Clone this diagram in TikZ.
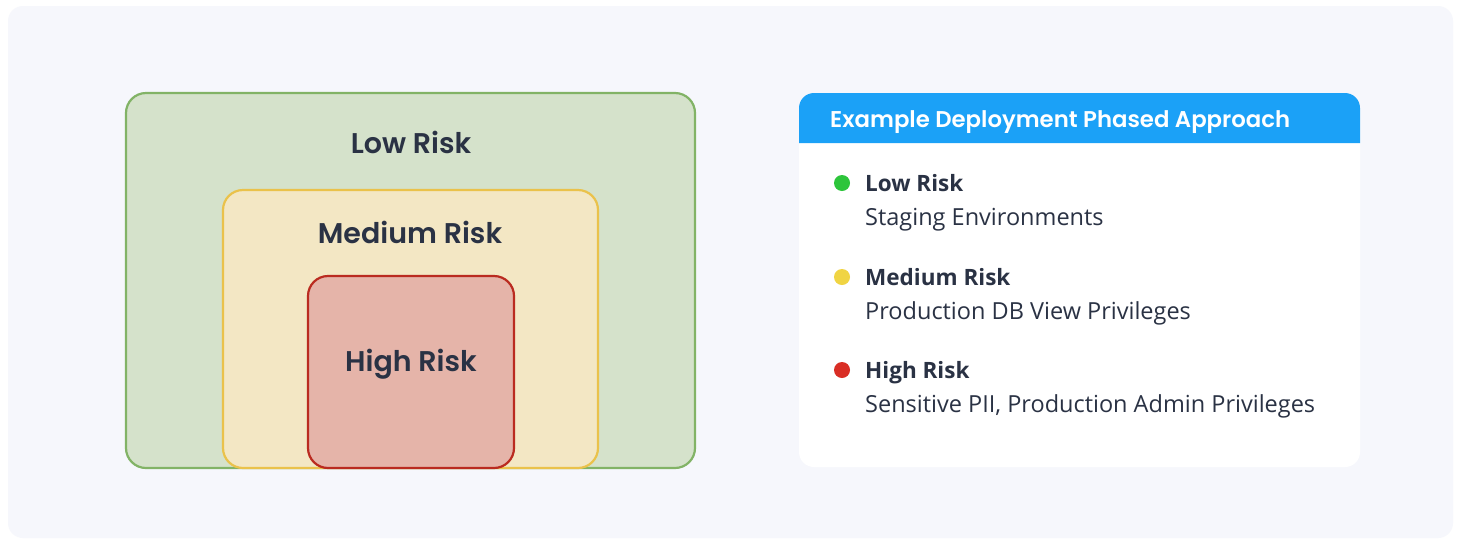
\documentclass[tikz,border=0pt]{standalone}
\usepackage{fontspec}
\setmainfont{Poppins}[BoldFont={Poppins SemiBold}]
\newfontfamily\itemfont{Open Sans}
\usetikzlibrary{positioning}

\definecolor{panelbg}{HTML}{F6F7FC}
\definecolor{textdark}{HTML}{2A3244}
\definecolor{lowfill}{HTML}{D5E2CB}
\definecolor{lowline}{HTML}{82B366}
\definecolor{medfill}{HTML}{F3E7C4}
\definecolor{medline}{HTML}{EAC24B}
\definecolor{highfill}{HTML}{E5B4A9}
\definecolor{highline}{HTML}{BA2B20}
\definecolor{headblue}{HTML}{1BA1F7}
\definecolor{dotgreen}{HTML}{2DC53B}
\definecolor{dotyellow}{HTML}{F0D443}
\definecolor{dotred}{HTML}{D92E25}

\tikzset{
  zone/.style={rounded corners=20pt, line width=2.2pt},
  zonelabel/.style={anchor=base, inner sep=0pt, text=textdark,
    font=\fontsize{28.5}{33}\selectfont\bfseries},
  itemhead/.style={anchor=base west, inner sep=0pt, text=textdark,
    font=\itemfont\fontsize{22.5}{26}\selectfont\bfseries},
  itemtext/.style={anchor=base west, inner sep=0pt, text=textdark,
    font=\itemfont\fontsize{23.5}{27}\selectfont},
  riskdot/.style={circle, inner sep=0pt, minimum size=16pt}
}

\begin{document}
\begin{tikzpicture}[x=1pt, y=-1pt]
    \useasboundingbox (0,0) rectangle (1458,539);

    % background panel
    \fill[white] (0,0) rectangle (1458,539);
    \fill[panelbg, rounded corners=15pt] (8,6) rectangle (1453,538);

    % Low risk zone
    \draw[zone, fill=lowfill, draw=lowline] (126,93) rectangle (695,468);
    \node[zonelabel] (lowlbl) at (411,153) {Low Risk};

    % Medium risk zone
    \draw[zone, fill=medfill, draw=medline] (223,190) rectangle (598,468);
    \node[zonelabel] (medlbl) at (410,243) {Medium Risk};

    % High risk zone
    \draw[zone, fill=highfill, draw=highline] (308,276) rectangle (514,468);
    \node[zonelabel] (highlbl) at (411,371) {High Risk};

    % legend card
    \fill[white, rounded corners=15pt] (799,93) rectangle (1360,467);
    \fill[headblue] (799,143) [rounded corners=15pt] -- (799,93) -- (1360,93)
        [sharp corners] -- (1360,143) -- cycle;
    \node[anchor=base west, inner sep=0pt, text=white,
        font=\fontsize{22.8}{27}\selectfont\bfseries] (title) at (830,127)
        {Example Deployment Phased Approach};

    % legend items
    \node[riskdot, fill=dotgreen] (lowdot) at (842,183) {};
    \node[itemhead] (lowhead) at (865,191) {Low Risk};
    \node[itemtext] (lowtext) at (865,225) {Staging Environments};

    \node[riskdot, fill=dotyellow] (meddot) at (842,277) {};
    \node[itemhead] (medhead) at (865,285) {Medium Risk};
    \node[itemtext] (medtext) at (865,319) {Production DB View Privileges};

    \node[riskdot, fill=dotred] (highdot) at (842,370) {};
    \node[itemhead] (highhead) at (865,378) {High Risk};
    \node[itemtext] (hightext) at (865,412) {Sensitive PII, Production Admin Privileges};

\end{tikzpicture}
\end{document}
